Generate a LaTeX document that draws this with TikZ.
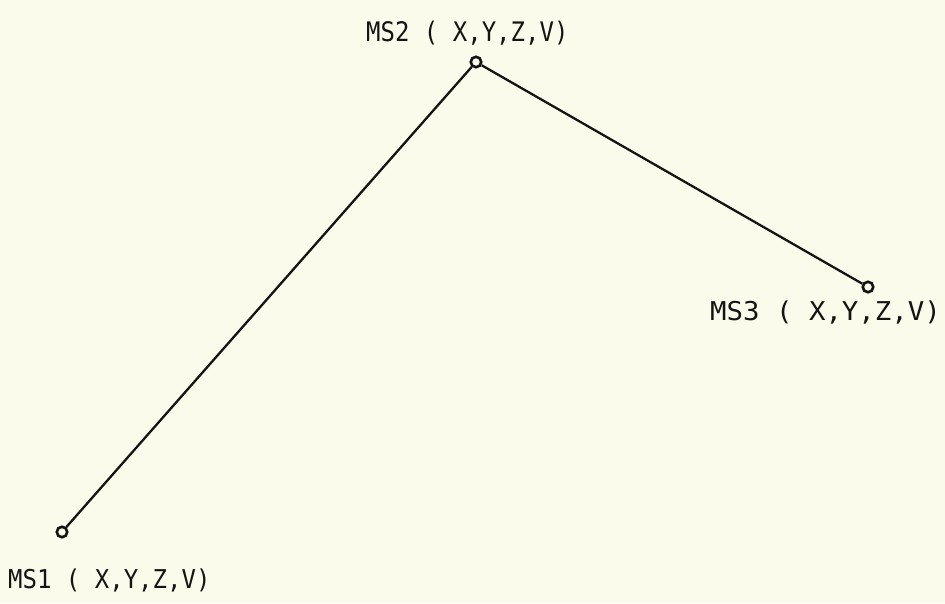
\documentclass[tikz,border=0pt]{standalone}
\usepackage{fontspec}
\setmonofont{DejaVu Sans Mono}
\definecolor{paper}{HTML}{FBFBEC}
\definecolor{ink}{HTML}{141412}
\begin{document}
\begin{tikzpicture}[x=1pt,y=-1pt,
  pt/.style={circle,draw=ink,line width=2.6pt,inner sep=0pt,minimum size=10.5pt},
  lbl/.style={text=ink,font=\ttfamily\fontsize{24}{24}\selectfont,inner sep=0pt,anchor=base west},
  seg/.style={draw=ink,line width=2.3pt}]
\fill[paper] (0,0) rectangle (945,603);
\useasboundingbox (0,0) rectangle (945,603);
\node[pt] (p2) at (476,62) {};
\node[pt] (p3) at (868,287) {};
\node[pt] (p1) at (62,532) {};
\draw[seg] (p1) -- (p2);
\draw[seg] (p2) -- (p3);
\node[lbl] (l2) at (366,41) {\scalebox{1}[1.12]{MS2 ( X,Y,Z,V)}};
\node[lbl] (l3) at (710,320) {\scalebox{1.14}[1.08]{MS3 ( X,Y,Z,V)}};
\node[lbl] (l1) at (8,588) {\scalebox{1}[1.08]{MS1 ( X,Y,Z,V)}};
\end{tikzpicture}
\end{document}
